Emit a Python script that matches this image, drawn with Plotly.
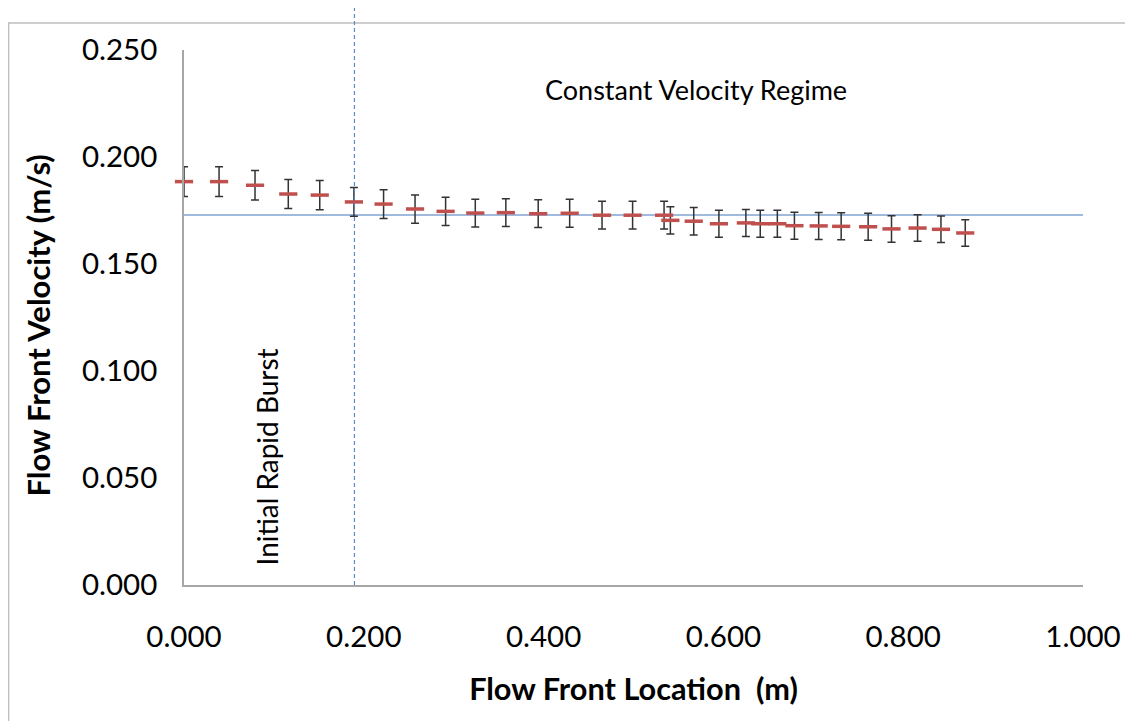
import plotly.graph_objects as go

# Data
location = [0.000, 0.039, 0.079, 0.116, 0.151, 0.189, 0.222, 0.257, 0.291, 0.324,
            0.358, 0.394, 0.429, 0.465, 0.499, 0.534, 0.541, 0.567, 0.595, 0.625,
            0.641, 0.660, 0.679, 0.706, 0.731, 0.761, 0.787, 0.816, 0.842, 0.869]
velocity = [0.1885, 0.1885, 0.1868, 0.1827, 0.1822, 0.1790, 0.1780, 0.1757, 0.1746, 0.1738,
            0.1740, 0.1735, 0.1737, 0.1728, 0.1728, 0.1728, 0.1704, 0.1700, 0.1688, 0.1692,
            0.1688, 0.1688, 0.1679, 0.1678, 0.1676, 0.1674, 0.1664, 0.1668, 0.1662, 0.1645]
error = [0.0070, 0.0070, 0.0069, 0.0068, 0.0068, 0.0067, 0.0067, 0.0066, 0.0066, 0.0065,
         0.0065, 0.0065, 0.0065, 0.0065, 0.0065, 0.0065, 0.0064, 0.0064, 0.0063, 0.0063,
         0.0063, 0.0063, 0.0063, 0.0063, 0.0063, 0.0063, 0.0062, 0.0062, 0.0062, 0.0062]

constant_velocity = 0.1729
burst_boundary = 0.1896

x_ticks = [0.0, 0.2, 0.4, 0.6, 0.8, 1.0]
y_ticks = [0.0, 0.05, 0.10, 0.15, 0.20, 0.25]

fig = go.Figure()
fig.add_trace(go.Scatter(
    x=location, y=velocity, mode="markers",
    marker=dict(symbol="line-ew", size=13, line=dict(width=3.5, color="#C0504D")),
    error_y=dict(type="data", array=error, visible=True, color="#333333", thickness=1.5, width=4),
    showlegend=False, cliponaxis=False,
))

# Constant velocity reference line
fig.add_shape(type="line", xref="paper", yref="y", x0=0, x1=1,
              y0=constant_velocity, y1=constant_velocity,
              line=dict(color="#7FA3D0", width=1.5), layer="below")
# Boundary of initial rapid burst
fig.add_shape(type="line", xref="x", yref="paper", x0=burst_boundary, x1=burst_boundary,
              y0=0, y1=1.0785, line=dict(color="#5B89C2", width=1.2, dash="4px,3px"))
# Chart border
fig.add_shape(type="rect", xref="paper", yref="paper", x0=-0.1951, x1=1.08, y0=-0.3, y1=1.0505,
              line=dict(color="#BFBFBF", width=1.5), layer="below")

fig.add_annotation(text="Constant Velocity Regime", x=0.5700, y=0.25 - 0.0186, xref="x", yref="y",
                   showarrow=False, font=dict(family="Lato", size=27, color="#000000"))
fig.add_annotation(text="Initial Rapid Burst", x=0.0922, y=0.0600, xref="x", yref="y",
                   textangle=-90, showarrow=False, font=dict(family="Lato", size=28, color="#000000"))
# Y axis title
fig.add_annotation(text="<b>Flow Front Velocity (m/s)</b>", x=-0.1619, y=0.486,
                   xref="paper", yref="paper", xanchor="center", yanchor="middle",
                   textangle=-90, showarrow=False, font=dict(family="Lato", size=31, color="#000000"))

# The page body adds an 8px offset, so the figure is 8px smaller and margins compensate.
fig.update_layout(
    width=1125, height=713,
    margin=dict(l=176, r=47, t=42, b=136),
    paper_bgcolor="white", plot_bgcolor="white",
    font=dict(family="Lato", color="#000000"),
    xaxis=dict(range=[0, 1], tickvals=x_ticks, tickformat=".3f", showgrid=False, zeroline=False,
               showline=True, linecolor="#A6A6A6", linewidth=1.5, ticks="",
               tickfont=dict(size=29.5), ticklabelstandoff=25,
               title=dict(text="<b>Flow Front Location  (m)</b>", font=dict(size=30.7), standoff=26)),
    yaxis=dict(range=[0, 0.25], tickvals=y_ticks, tickformat=".3f", showgrid=False, zeroline=False,
               showline=True, linecolor="#A6A6A6", linewidth=1.5, ticks="",
               tickfont=dict(size=29.5), ticklabelstandoff=19),
)

fig.write_html("out.html")
